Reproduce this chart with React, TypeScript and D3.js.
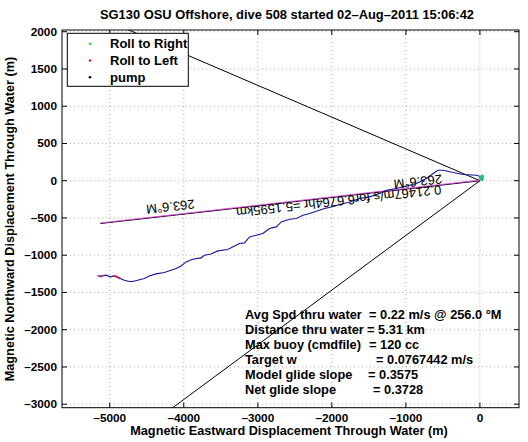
import React from 'react';
import * as d3 from 'd3';

const TITLE = 'SG130 OSU Offshore, dive 508 started 02–Aug–2011 15:06:42';
const X_LABEL = 'Magnetic Eastward Displacement Through Water (m)';
const Y_LABEL = 'Magnetic Northward Displacement Through Water (m)';

const xTicks = [-5000, -4000, -3000, -2000, -1000, 0];
const yTicks = [-3000, -2500, -2000, -1500, -1000, -500, 0, 500, 1000, 1500, 2000];

// glider track (m east, m north)
const trackX = [23, -45, -226, -361, -496, -564, -632, -721, -857, -992, -1127, -1263, -1353, -1489, -1624, -1759, -1894, -2007, -2097, -2210, -2300, -2391, -2480, -2571, -2683, -2751, -2842, -2932, -3022, -3112, -3180, -3248, -3315, -3406, -3541, -3631, -3721, -3766, -3880, -3969, -4037, -4104, -4172, -4263, -4375, -4466, -4533, -4624, -4692, -4736, -4804, -4872, -4939, -4993, -5051, -5119, -5165];
const trackY = [51, 74, 83, 110, 141, 141, 97, 30, -38, -70, -105, -128, -172, -217, -239, -285, -319, -352, -374, -409, -440, -463, -507, -517, -553, -620, -642, -709, -732, -754, -835, -843, -875, -923, -942, -983, -1000, -1036, -1054, -1090, -1144, -1179, -1201, -1232, -1251, -1278, -1313, -1336, -1353, -1353, -1336, -1305, -1278, -1291, -1268, -1282, -1278];

const rollRightX = [20, 30, 10, 25];
const rollRightY = [40, 55, 35, 20];
const rollLeftX = [-4872, -4905, -4939, -5119];
const rollLeftY = [-1305, -1290, -1278, -1282];

// bounding course lines
const boundTopX = [0, -6187];
const boundTopY = [0, 2639];
const boundBotX = [0, -4985];
const boundBotY = [0, -3660];

// current course vector
const courseX = [0, -5127];
const courseY = [0, -575];

const courseLabels = ['263.6°M', '263.6°M', '0.21467m/s for6.6764hr =5.1595km'];
const courseLabelX = [-4181, -839, -1908];
const courseLabelY = [-349, -13, -275];

const legendNames = ['Roll to Right', 'Roll to Left', 'pump'];
const legendColors = ['#22dd22', '#dd2222', '#000000'];

const infoLabels = ['Avg Spd thru water', 'Distance thru water', 'Max buoy (cmdfile)', 'Target w', 'Model glide slope', 'Net glide slope'];
const infoValues = ['=  0.22 m/s @ 256.0 °M', '=  5.31 km', '= 120 cc', '= 0.0767442 m/s', '= 0.3575', '= 0.3728'];

const W = 528, H = 442;
const L = 62, R = 519, T = 30, B = 407.7;
const FONT = '"Liberation Sans", Arial, Helvetica, sans-serif';

export default function App() {
  const x = d3.scaleLinear().domain([-5645, 528]).range([L, R]);
  const y = d3.scaleLinear().domain([-3047, 2023]).range([B, T]);
  const pathOf = (xs: number[], ys: number[]) =>
    d3.line<number>().x(d => x(xs[d])).y(d => y(ys[d]))(xs.map((_, i) => i)) || '';

  const ang = (Math.atan2(y(courseY[1]) - y(courseY[0]), x(courseX[1]) - x(courseX[0])) * 180) / Math.PI;
  const fmt = (v: number) => (v < 0 ? '–' + Math.abs(v) : String(v));
  const eqX = [369, 367, 369, 376, 368, 373];
  const tick = 5;

  return (
    <svg width={W} height={H} style={{ position: 'absolute', left: 0, top: 0, background: '#fff' }} fontFamily={FONT}>
      <defs>
        <clipPath id="plotclip">
          <rect x={L} y={T} width={R - L} height={B - T} />
        </clipPath>
      </defs>
      <rect x={0} y={0} width={W} height={H} fill="#fff" />
      {/* grid */}
      <g stroke="#9a9a9a" strokeWidth={0.8} strokeDasharray="1,3">
        {xTicks.map(t => (
          <line key={'gx' + t} x1={x(t)} x2={x(t)} y1={T} y2={B} />
        ))}
        {yTicks.map(t => (
          <line key={'gy' + t} x1={L} x2={R} y1={y(t)} y2={y(t)} />
        ))}
      </g>
      <g clipPath="url(#plotclip)" fill="none">
        <path d={pathOf(boundTopX, boundTopY)} stroke="#000" strokeWidth={1} />
        <path d={pathOf(boundBotX, boundBotY)} stroke="#000" strokeWidth={1} />
        <path d={pathOf(courseX, courseY)} stroke="#000" strokeWidth={1.1} />
        <path d={pathOf(courseX, courseY)} stroke="#e040e0" strokeWidth={0.9} transform="translate(0,-0.6)" />
        <path d={pathOf(trackX, trackY)} stroke="#14149a" strokeWidth={1.1} />
        {rollLeftX.map((v, i) => (
          <circle key={'rl' + i} cx={x(v)} cy={y(rollLeftY[i])} r={1.2} fill="#d02050" />
        ))}
        {rollRightX.map((v, i) => (
          <circle key={'rr' + i} cx={x(v)} cy={y(rollRightY[i])} r={2} fill="#20c080" />
        ))}
      </g>
      {/* rotated course labels */}
      {courseLabels.map((s, i) => (
        <text
          key={'cl' + i}
          transform={`translate(${x(courseLabelX[i])},${y(courseLabelY[i])}) rotate(${ang})`}
          textAnchor="middle"
          dominantBaseline="central"
          fontSize={13}
          fill="#000"
        >
          {s}
        </text>
      ))}
      {/* info block */}
      {infoLabels.map((s, i) => (
        <text key={'in' + i} y={314 + i * 15} dominantBaseline="central" fontSize={12.8} fontWeight="bold" fill="#000">
          <tspan x={245}>{s}</tspan>
          <tspan x={eqX[i]}>{infoValues[i]}</tspan>
        </text>
      ))}
      {/* axes box */}
      <rect x={L} y={T} width={R - L} height={B - T} fill="none" stroke="#000" strokeWidth={1} />
      <g stroke="#000" strokeWidth={1}>
        {xTicks.map(t => (
          <g key={'tx' + t}>
            <line x1={x(t)} x2={x(t)} y1={B} y2={B - tick} />
            <line x1={x(t)} x2={x(t)} y1={T} y2={T + tick} />
          </g>
        ))}
        {yTicks.map(t => (
          <g key={'ty' + t}>
            <line x1={L} x2={L + tick} y1={y(t)} y2={y(t)} />
            <line x1={R} x2={R - tick} y1={y(t)} y2={y(t)} />
          </g>
        ))}
      </g>
      <g fontSize={11.8} fontWeight="bold" fill="#000">
        {xTicks.map(t => (
          <text key={'lx' + t} x={x(t)} y={418} textAnchor="middle" dominantBaseline="central">
            {fmt(t)}
          </text>
        ))}
        {yTicks.map(t => (
          <text key={'ly' + t} x={57} y={y(t)} textAnchor="end" dominantBaseline="central">
            {fmt(t)}
          </text>
        ))}
      </g>
      {/* legend */}
      <rect x={67.3} y={33.3} width={121} height={53} fill="#fff" stroke="#000" strokeWidth={1} />
      {legendNames.map((s, i) => (
        <g key={'lg' + i}>
          <circle cx={90} cy={43.8 + i * 16.7} r={1.3} fill={legendColors[i]} />
          <text x={110} y={43.8 + i * 16.7} dominantBaseline="central" fontSize={13} fontWeight="bold" fill="#000">
            {s}
          </text>
        </g>
      ))}
      {/* titles */}
      <text x={287} y={14.5} textAnchor="middle" dominantBaseline="central" fontSize={12.9} fontWeight="bold" fill="#000">
        {TITLE}
      </text>
      <text x={289} y={431} textAnchor="middle" dominantBaseline="central" fontSize={12.7} fontWeight="bold" fill="#000">
        {X_LABEL}
      </text>
      <text
        transform={`translate(10,219) rotate(-90)`}
        textAnchor="middle"
        dominantBaseline="central"
        fontSize={12.7}
        fontWeight="bold"
        fill="#000"
      >
        {Y_LABEL}
      </text>
    </svg>
  );
}
